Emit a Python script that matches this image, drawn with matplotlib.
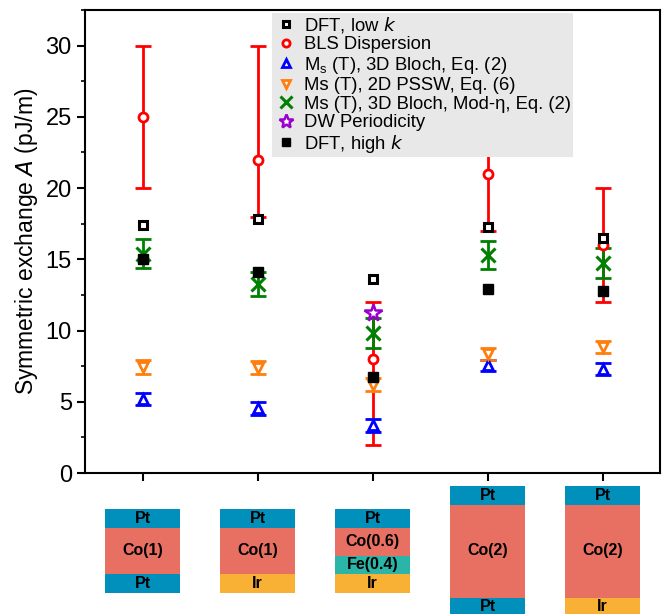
import matplotlib.pyplot as plt
from matplotlib.patches import Rectangle
from matplotlib.ticker import MultipleLocator

plt.rcParams['font.family'] = ['Liberation Sans', 'DejaVu Sans']

# Data
samples = [1, 2, 3, 4, 5]

dft_low = [17.4, 17.8, 13.6, 17.3, 16.5]

bls = [25.0, 22.0, 8.0, 21.0, 16.0]
bls_lo = [5.0, 4.0, 6.0, 4.0, 4.0]
bls_hi = [5.0, 8.0, 4.0, 4.0, 4.0]

bloch = [5.2, 4.55, 3.35, 7.55, 7.3]
bloch_err = [0.45, 0.45, 0.45, 0.4, 0.45]

pssw = [7.45, 7.4, 6.2, 8.35, 8.85]
pssw_err = [0.5, 0.45, 0.45, 0.45, 0.45]

mod_eta = [15.4, 13.25, 9.8, 15.3, 14.75]
mod_eta_err = [1.0, 0.85, 1.05, 1.0, 1.05]

dw_x = [3]
dw = [11.2]

dft_high = [15.0, 14.1, 6.75, 12.95, 12.8]

# layer stacks (top to bottom): name, thickness
stacks = [
    [('Pt', 0.4), ('Co(1)', 1.0), ('Pt', 0.4)],
    [('Pt', 0.4), ('Co(1)', 1.0), ('Ir', 0.4)],
    [('Pt', 0.4), ('Co(0.6)', 0.6), ('Fe(0.4)', 0.4), ('Ir', 0.4)],
    [('Pt', 0.4), ('Co(2)', 2.0), ('Pt', 0.4)],
    [('Pt', 0.4), ('Co(2)', 2.0), ('Ir', 0.4)],
]
layer_colors = {'Pt': '#0090bb', 'Co': '#e87063', 'Fe': '#2bb5a8', 'Ir': '#f8b035'}

fig = plt.figure(figsize=(6.7, 6.14), dpi=100)
ax = fig.add_axes([85 / 670, 141 / 614, 575 / 670, 463 / 614])

ax.errorbar(samples, bls, yerr=[bls_lo, bls_hi], fmt='none', ecolor='red',
            elinewidth=2, capsize=6, capthick=2, zorder=1)
ax.errorbar(samples, bloch, yerr=bloch_err, fmt='none', ecolor='blue',
            elinewidth=2, capsize=6, capthick=2, zorder=2)
ax.errorbar(samples, pssw, yerr=pssw_err, fmt='none', ecolor='#ff7f0e',
            elinewidth=2, capsize=6, capthick=2, zorder=2)
ax.errorbar(samples, mod_eta, yerr=mod_eta_err, fmt='none', ecolor='green',
            elinewidth=2, capsize=6, capthick=2, zorder=2)

ax.plot(samples, dft_low, 's', ms=6, mfc='white', mec='black', mew=2.2,
        ls='none', label='DFT, low $k$', zorder=5)
ax.plot(samples, bls, 'o', ms=6.5, mfc='white', mec='red', mew=2,
        ls='none', label='BLS Dispersion', zorder=4)
ax.plot(samples, bloch, '^', ms=7.5, mfc='white', mec='blue', mew=2,
        ls='none', label='M$_\\mathregular{s}$ (T), 3D Bloch, Eq. (2)', zorder=4)
ax.plot(samples, pssw, 'v', ms=7.5, mfc='white', mec='#ff7f0e', mew=2,
        ls='none', label='Ms (T), 2D PSSW, Eq. (6)', zorder=4)
ax.plot(samples, mod_eta, 'x', ms=10, mec='green', mew=2.2,
        ls='none', label='Ms (T), 3D Bloch, Mod-\u03b7, Eq. (2)', zorder=4)
ax.plot(dw_x, dw, '*', ms=13, mfc='white', mec='#9900cc', mew=1.8,
        ls='none', label='DW Periodicity', zorder=4)
ax.plot(samples, dft_high, 's', ms=7.5, mfc='black', mec='black',
        ls='none', label='DFT, high $k$', zorder=5)

ax.set_xlim(0.5, 5.5)
ax.set_ylim(0, 32.5)
ax.set_xticks(samples)
ax.set_xticklabels([])
ax.yaxis.set_major_locator(MultipleLocator(5))
ax.yaxis.set_minor_locator(MultipleLocator(2.5))
ax.tick_params(axis='both', which='major', direction='out', length=6, width=1.5,
               labelsize=17)
ax.tick_params(axis='y', which='minor', direction='out', length=3, width=1.2)
for s in ax.spines.values():
    s.set_linewidth(1.5)
ax.set_ylabel('Symmetric exchange $\\mathit{A}$ (pJ/m)', fontsize=16.5, labelpad=4)

leg = ax.legend(loc='upper left', bbox_to_anchor=(0.325, 0.994), fontsize=13.3,
                frameon=True, facecolor='#e8e8e8', edgecolor='none', framealpha=1,
                handletextpad=0.3, labelspacing=0.08, borderpad=0.12,
                borderaxespad=0, handlelength=1.3, markerscale=0.8, fancybox=False)

# layer stack schematics under each sample
ax2 = fig.add_axes([85 / 670, 0, 575 / 670, 126 / 614], sharex=ax)
ax2.set_ylim(-126 / 46.5 / 2, 126 / 46.5 / 2)
ax2.axis('off')
width = 0.65
for x, stack in zip(samples, stacks):
    total = sum(t for _, t in stack)
    top = total / 2
    for name, t in stack:
        color = layer_colors[name[:2]]
        ax2.add_patch(Rectangle((x - width / 2, top - t), width, t, facecolor=color,
                                edgecolor='none', clip_on=False))
        ax2.text(x, top - t / 2, name, ha='center', va='center', fontsize=11.5,
                 fontweight='bold', clip_on=False)
        top -= t

fig.savefig('out.png', dpi=100)
